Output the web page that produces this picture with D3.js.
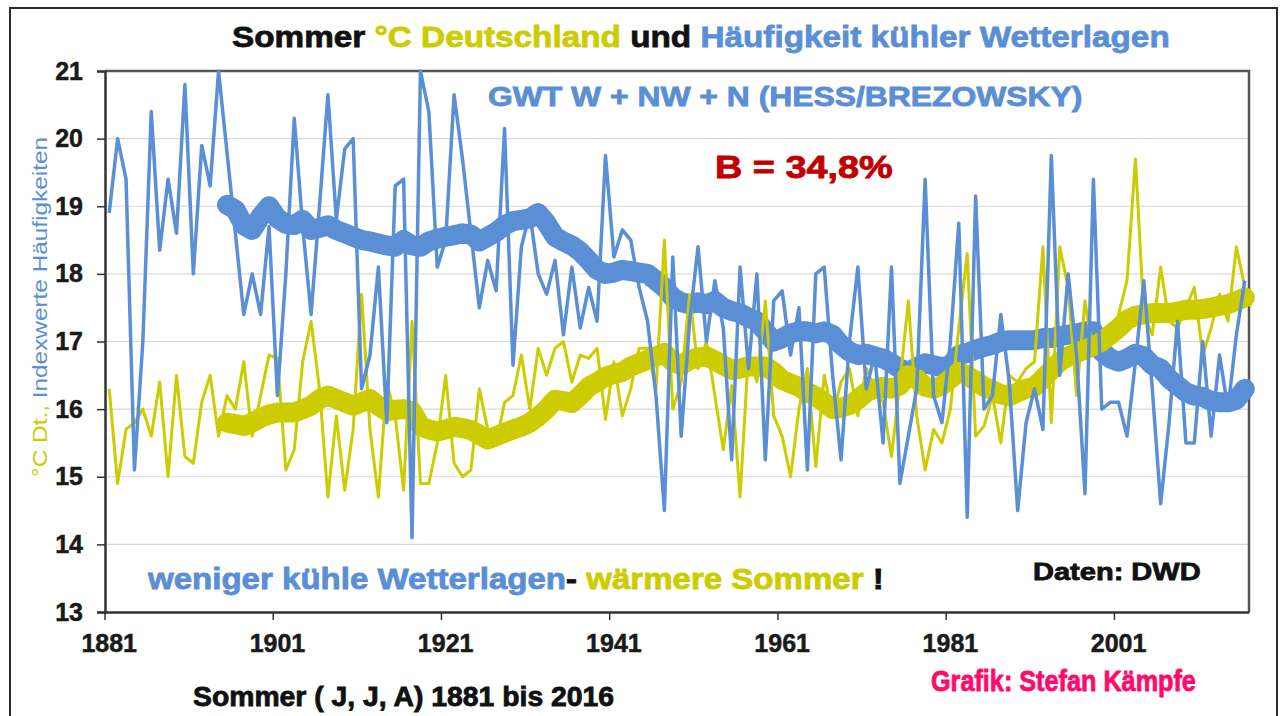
<!DOCTYPE html>
<html>
<head>
<meta charset="utf-8">
<script src="https://cdn.jsdelivr.net/npm/d3@7"></script>
<style>
  body { margin: 0; background: #fff; }
  text { font-family: "Liberation Sans", Arial, sans-serif; white-space: pre; }
</style>
</head>
<body>
<svg id="chart" width="1286" height="716"></svg>
<script>
// categories
const firstYear = 1881, lastYear = 2016, maStart = 1895;
const years = d3.range(firstYear, lastYear + 1);
const tickYears = [1881, 1901, 1921, 1941, 1961, 1981, 2001];
const yTicks = [13, 14, 15, 16, 17, 18, 19, 20, 21];

// GWT W + NW + N, index values (thin blue)
const coolIndex = [
  18.9, 20.0, 19.4, 15.1, 17.0, 20.4, 18.35, 19.4, 18.6, 20.8,
  18.0, 19.9, 19.3, 21.0, 19.8, 18.6, 17.4, 18.0, 17.4, 18.7,
  16.2, 18.0, 20.3, 18.7, 17.4, 19.0, 20.65, 18.8, 19.85, 20.0,
  16.3, 16.8, 18.1, 15.8, 19.3, 19.4, 14.1, 21.0, 20.4, 18.1,
  18.5, 20.65, 19.7, 18.6, 17.5, 18.2, 17.75, 20.15, 16.65, 18.4,
  18.9, 18.0, 17.7, 18.2, 17.1, 18.1, 17.2, 17.8, 17.3, 19.75,
  18.25, 18.65, 18.5, 17.8, 17.3, 16.2, 14.5, 18.25, 15.6, 17.3,
  18.4, 17.0, 17.9, 17.2, 15.25, 18.1, 16.6, 18.0, 15.25, 17.6,
  17.75, 16.8, 17.5, 15.1, 18.0, 18.1, 16.5, 15.25, 17.0, 18.1,
  16.3, 16.8, 15.5, 18.1, 14.9, 15.6, 16.3, 19.4, 16.2, 15.8,
  17.0, 18.75, 14.4, 19.15, 16.0, 16.2, 17.4, 16.4, 14.5, 15.8,
  16.3, 15.7, 19.75, 16.5, 18.0, 16.8, 14.75, 19.4, 16.0, 16.1,
  16.1, 15.6, 16.7, 17.9, 16.3, 14.6, 15.8, 17.3, 15.5, 15.5,
  17.0, 15.6, 16.8, 16.0, 17.1, 17.9
];

// summer temperature Germany, deg C (thin yellow)
const summerTemp = [
  16.3, 14.9, 15.7, 15.8, 16.0, 15.6, 16.4, 15.0, 16.5, 15.3,
  15.2, 16.1, 16.5, 15.6, 16.2, 16.0, 16.7, 15.6, 16.2, 16.8,
  16.75, 15.1, 15.4, 16.7, 17.3, 16.3, 14.7, 15.9, 14.8, 15.7,
  17.7, 15.7, 14.7, 16.4, 15.9, 14.8, 17.3, 14.9, 14.9, 15.5,
  16.5, 15.2, 15.0, 15.1, 16.3, 15.7, 15.5, 16.1, 16.2, 16.8,
  16.0, 16.9, 16.5, 16.9, 17.0, 16.4, 16.8, 16.75, 16.9, 15.85,
  16.7, 15.9, 16.3, 16.9, 16.9, 16.3, 18.5, 16.0, 16.4, 17.7,
  16.6, 17.0, 16.2, 15.4, 16.35, 14.7, 16.85, 16.4, 17.6, 15.9,
  15.6, 15.0, 16.0, 16.6, 15.15, 16.5, 15.9, 16.4, 16.6, 15.9,
  16.6, 16.3, 16.1, 15.3, 16.4, 17.6, 15.9, 15.1, 15.7, 15.5,
  16.0, 17.2, 18.3, 15.6, 15.75, 16.2, 15.5, 16.5, 16.4, 16.6,
  16.7, 18.4, 15.8, 18.4, 17.8, 16.2, 17.6, 16.8, 16.9, 17.0,
  17.4, 17.9, 19.7, 17.4, 17.1, 18.1, 17.3, 17.2, 17.5, 17.8,
  16.8, 17.2, 17.7, 17.3, 18.4, 17.8
];

// smoothed curves, 1895..2016
const coolIndexMean = [
  19.02, 18.95, 18.72, 18.65, 18.85, 19.0,
  18.82, 18.74, 18.72, 18.8, 18.65, 18.68, 18.72, 18.65, 18.6, 18.55,
  18.5, 18.48, 18.45, 18.42, 18.4, 18.5, 18.42, 18.4, 18.48, 18.52,
  18.55, 18.57, 18.6, 18.58, 18.48, 18.55, 18.62, 18.72, 18.78, 18.8,
  18.82, 18.9, 18.75, 18.55, 18.48, 18.42, 18.33, 18.2, 18.06, 18.0,
  18.02, 18.06, 18.04, 18.02, 18.0, 17.9, 17.8, 17.65, 17.58, 17.55,
  17.58, 17.55, 17.6, 17.5, 17.45, 17.42, 17.35, 17.3, 17.15, 17.0,
  17.05, 17.12, 17.15, 17.15, 17.12, 17.15, 17.1, 16.95, 16.85, 16.8,
  16.82, 16.78, 16.75, 16.68, 16.6, 16.55, 16.62, 16.68, 16.65, 16.62,
  16.65, 16.8, 16.83, 16.88, 16.92, 16.95, 17.0, 17.02, 17.02, 17.02,
  17.02, 17.05, 17.05, 17.08, 17.1, 17.12, 17.15, 17.15, 16.85, 16.75,
  16.7, 16.75, 16.82, 16.78, 16.65, 16.6, 16.45, 16.35, 16.25, 16.2,
  16.18, 16.12, 16.1, 16.1, 16.14, 16.3
];
const summerTempMean = [
  15.8, 15.78, 15.75, 15.8, 15.87, 15.92,
  15.95, 15.95, 15.95, 16.0, 16.05, 16.15, 16.2, 16.15, 16.1, 16.05,
  16.1, 16.15, 16.05, 15.97, 15.99, 16.0, 15.97, 15.75, 15.7, 15.67,
  15.7, 15.74, 15.72, 15.69, 15.62, 15.55, 15.6, 15.65, 15.7, 15.74,
  15.8, 15.89, 16.0, 16.14, 16.12, 16.09, 16.2, 16.33, 16.4, 16.48,
  16.52, 16.55, 16.63, 16.68, 16.73, 16.78, 16.83, 16.7, 16.65, 16.73,
  16.76, 16.78, 16.72, 16.65, 16.58, 16.6, 16.63, 16.63, 16.63, 16.55,
  16.43, 16.38, 16.33, 16.25, 16.19, 16.1, 16.0, 16.02, 16.06, 16.14,
  16.25, 16.3, 16.33, 16.3, 16.35, 16.5, 16.45, 16.33, 16.3, 16.35,
  16.45, 16.55, 16.5, 16.42, 16.33, 16.28, 16.22, 16.19, 16.25, 16.3,
  16.33, 16.45, 16.58, 16.7, 16.78, 16.83, 16.88, 16.93, 17.0, 17.1,
  17.2, 17.32, 17.38, 17.4, 17.42, 17.42, 17.42, 17.44, 17.47, 17.47,
  17.48, 17.5, 17.53, 17.55, 17.6, 17.65
];

const BLUE = "#5a8fd5", YELLOW = "#cccc00", PINK = "#ff0a6c", RED = "#c00000";

const svg = d3.select("#chart");
const margin = { left: 105, right: 1249, top: 71, bottom: 612 };

const x = d3.scaleBand().domain(years).range([margin.left, margin.right]).padding(0);
const y = d3.scaleLinear().domain([13, 21]).range([margin.bottom, margin.top]);
const cx = yr => x(yr) + x.bandwidth() / 2;

// outer frame
svg.append("rect")
  .attr("x", 10).attr("y", 8).attr("width", 1267).attr("height", 720)
  .attr("fill", "none").attr("stroke", "#2b2b2b").attr("stroke-width", 2);

// grid
svg.append("g")
  .selectAll("line")
  .data(yTicks.filter(d => d > 13 && d < 21))
  .join("line")
  .attr("x1", margin.left).attr("x2", margin.right)
  .attr("y1", d => y(d)).attr("y2", d => y(d))
  .attr("stroke", "#d9d9d9").attr("stroke-width", 1.2);

// plot border top/right
svg.append("path")
  .attr("d", `M${margin.left},${margin.top}H${margin.right}V${margin.bottom}`)
  .attr("fill", "none").attr("stroke", "#555").attr("stroke-width", 2.5);

// lines
const series = (vals, start) => vals.map((v, i) => ({ yr: start + i, v }));
const line = d3.line().x(d => cx(d.yr)).y(d => y(d.v));
const plot = svg.append("g");

plot.append("path")
  .datum(series(coolIndexMean, maStart))
  .attr("d", line)
  .attr("fill", "none").attr("stroke", BLUE).attr("stroke-width", 20)
  .attr("stroke-linejoin", "round").attr("stroke-linecap", "round");

plot.append("path")
  .datum(series(summerTempMean, maStart))
  .attr("d", line)
  .attr("fill", "none").attr("stroke", YELLOW).attr("stroke-width", 20)
  .attr("stroke-linejoin", "round").attr("stroke-linecap", "round");

plot.append("path")
  .datum(series(summerTemp, firstYear))
  .attr("d", line)
  .attr("fill", "none").attr("stroke", YELLOW).attr("stroke-width", 3)
  .attr("stroke-linejoin", "round");

plot.append("path")
  .datum(series(coolIndex, firstYear))
  .attr("d", line)
  .attr("fill", "none").attr("stroke", BLUE).attr("stroke-width", 3.5)
  .attr("stroke-linejoin", "round");

// axes
const yAxis = svg.append("g")
  .attr("transform", `translate(${margin.left},0)`)
  .call(d3.axisLeft(y).tickValues(yTicks).tickSize(8).tickPadding(14).tickFormat(d3.format("d")));
yAxis.select(".domain").attr("stroke", "#333").attr("stroke-width", 2.5);
yAxis.selectAll(".tick line").attr("stroke", "#333").attr("stroke-width", 1.5);
yAxis.selectAll("text")
  .attr("font-size", 25).attr("font-weight", "bold").attr("fill", "#1a1a1a")
  .attr("stroke", "#1a1a1a").attr("stroke-width", 0.5)
  .attr("font-family", "Liberation Sans, Arial, sans-serif");

const xAxis = svg.append("g")
  .attr("transform", `translate(0,${margin.bottom})`)
  .call(d3.axisBottom(x).tickValues(tickYears).tickSize(8).tickPadding(14).tickSizeOuter(0));
xAxis.select(".domain").attr("stroke", "#333").attr("stroke-width", 2.5);
xAxis.selectAll(".tick line")
  .attr("x1", -x.bandwidth() / 2).attr("x2", -x.bandwidth() / 2)
  .attr("stroke", "#333").attr("stroke-width", 1.5);
xAxis.selectAll("text")
  .attr("font-size", 25).attr("font-weight", "bold").attr("fill", "#1a1a1a")
  .attr("stroke", "#1a1a1a").attr("stroke-width", 0.5)
  .attr("font-family", "Liberation Sans, Arial, sans-serif");

// texts
function label(px, py, parts, size, sx, opts = {}) {
  const t = svg.append("text")
    .attr("transform", `translate(${px},${py}) scale(${sx},1)`)
    .attr("font-size", size)
    .attr("font-weight", opts.weight || "bold")
    .attr("text-anchor", opts.anchor || "start");
  parts.forEach(([s, c]) => t.append("tspan")
    .attr("fill", c).attr("stroke", c).attr("stroke-width", opts.heavy || 0.8)
    .text(s));
  return t;
}

label(232, 47, [["Sommer ", "#111"], ["°C Deutschland ", YELLOW], ["und ", "#111"],
  ["Häufigkeit kühler Wetterlagen", BLUE]], 30, 1.11);
label(488, 106, [["GWT W + NW + N (HESS/BREZOWSKY)", BLUE]], 27, 1.18);
label(715, 178, [["B = 34,8%", RED]], 31, 1.22);
label(148, 589, [["weniger kühle Wetterlagen", BLUE], ["- ", "#111"],
  ["wärmere Sommer ", YELLOW], ["!", "#111"]], 29, 1.14);
label(1033, 580, [["Daten: DWD", "#111"]], 24, 1.21);
label(193, 706, [["Sommer ( J, J, A) 1881 bis 2016", "#111"]], 27, 1.05);
label(931, 691, [["Grafik: Stefan Kämpfe", PINK]], 29, 0.87);

svg.append("text")
  .attr("transform", "translate(47,307) rotate(-90)")
  .attr("text-anchor", "middle")
  .attr("font-size", 21)
  .attr("textLength", 340)
  .attr("lengthAdjust", "spacingAndGlyphs")
  .call(t => {
    t.append("tspan").attr("fill", YELLOW).text("°C Dt., ");
    t.append("tspan").attr("fill", BLUE).text("Indexwerte Häufigkeiten");
  });
</script>
</body>
</html>
